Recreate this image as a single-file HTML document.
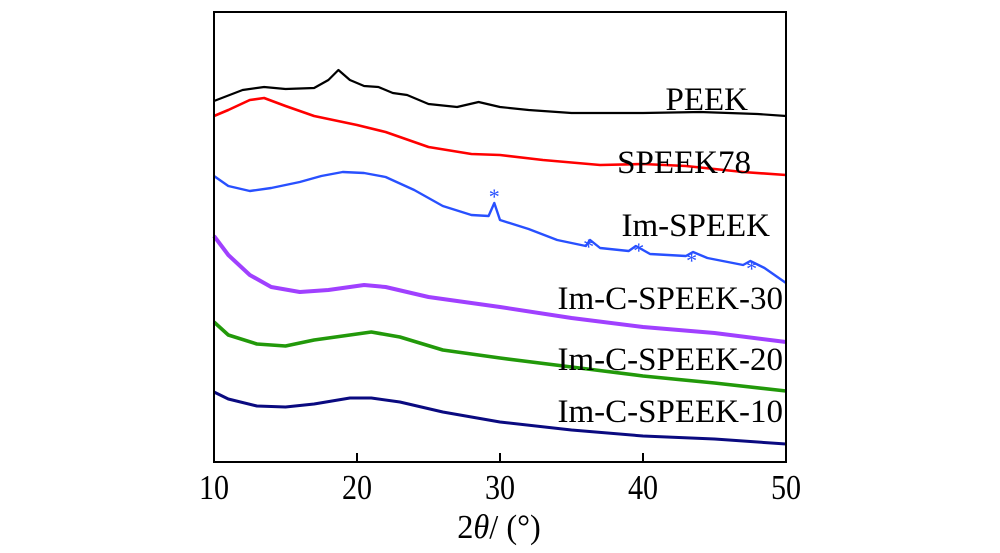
<!DOCTYPE html>
<html><head><meta charset="utf-8"><style>
html,body{margin:0;padding:0;background:#fff;}
svg{display:block;font-family:"Liberation Serif",serif;}
</style></head><body>
<svg id="chart" width="1000" height="553" viewBox="0 0 1000 553" xmlns="http://www.w3.org/2000/svg">
<g id="series"></g>
<rect x="214" y="12" width="572" height="450" fill="none" stroke="#000" stroke-width="2"/>
<g id="ticks"></g>
<text transform="translate(499,538) scale(0.95,1)" font-size="34" text-anchor="middle">2<tspan font-style="italic">θ</tspan>/ (°)</text>
<g id="labels"></g>
</svg>
<script>
const xTicks=[10,20,30,40,50];
const angles=[
 [10,12,13.5,15,17,18,18.7,19.5,20.5,21.5,22.5,23.5,25,27,28.5,30,32,35,40,44,48,50],
 [10,11,12.5,13.5,15,17,20,22,25,28,30,33,37,40,43,47,50],
 [10,11,12.5,14,16,17.5,19,20.5,22,24,26,28,29.2,29.6,30,32,34,36,36.3,37,39,39.5,40.5,43,43.5,44.5,47,47.5,48.5,50],
 [10,11,12.5,14,16,18,20.5,22,25,30,35,40,45,50],
 [10,11,13,15,17,19.5,21,23,26,30,35,40,45,50],
 [10,11,13,15,17,19.5,21,23,26,30,35,40,45,50]
];
const peek=[101,90,87,89,88,80,70,80,86,87,93,95,104,107,102,107,110,113,113,112,114,116];
const speek78=[116,110,100,98,106,116,125,132,147,154,155,160,165,164,166,172,175];
const imSpeek=[176,186,191,188,182,176,172,173,177,190,206,215,216,203,220,229,240,246,240,248,251,246,254,256,252,258,265,261,268,283];
const imC30=[236,255,275,287,292,290,285,287,297,307,318,327,333,342];
const imC20=[322,335,344,346,340,335,332,337,350,358,367,376,383,391];
const imC10=[392,399,406,407,404,398,398,402,412,422,430,436,439,444];
const seriesNames=["PEEK","SPEEK78","Im-SPEEK","Im-C-SPEEK-30","Im-C-SPEEK-20","Im-C-SPEEK-10"];
const seriesVals=[peek,speek78,imSpeek,imC30,imC20,imC10].map(a=>a.map(y=>462-y));
const colors=["#000000","#ff0000","#2850ff","#a040ff","#22990a","#0a0a80"];
const widths=[2.2,2.6,2.4,4,3.6,3];
const starAngles=[29.6,36.2,39.7,43.4,47.6];
const starVals=[269,219,215,205,197];
const labelY=[110,173,236,309,370,422];
const labelX=[748,751,770,783,783,783];
const X=v=>214+(v-10)*572/40;
const Y=v=>462-v;
const NS="http://www.w3.org/2000/svg";
const sg=document.getElementById('series');
seriesVals.forEach((vals,i)=>{
 const p=document.createElementNS(NS,'polyline');
 
 
 p.setAttribute('points',vals.map((v,j)=>X(angles[i][j]).toFixed(1)+','+Y(v).toFixed(1)).join(' '));
 p.setAttribute('fill','none');p.setAttribute('stroke',colors[i]);p.setAttribute('stroke-width',widths[i]);
 p.setAttribute('stroke-linejoin','round');
 sg.appendChild(p);
});
starAngles.forEach((a,i)=>{
 const t=document.createElementNS(NS,'text');
 
 
 t.setAttribute('x',X(a));t.setAttribute('y',Y(starVals[i])+11);
 t.setAttribute('font-size','22');t.setAttribute('fill','#2850ff');t.setAttribute('text-anchor','middle');
 t.textContent='*';sg.appendChild(t);
});
const tg=document.getElementById('ticks');
xTicks.forEach(v=>{
 if(v>10&&v<50){const l=document.createElementNS(NS,'line');
 
 
 l.setAttribute('x1',X(v));l.setAttribute('x2',X(v));l.setAttribute('y1',462);l.setAttribute('y2',453);
 l.setAttribute('stroke','#000');l.setAttribute('stroke-width','2');tg.appendChild(l);}
 const t=document.createElementNS(NS,'text');
 
 
 t.setAttribute('transform','translate('+X(v)+',499) scale(0.86,1)');
 t.setAttribute('font-size','35');t.setAttribute('text-anchor','middle');
 t.textContent=v;tg.appendChild(t);
});
const lg=document.getElementById('labels');
seriesNames.forEach((n,i)=>{
 const t=document.createElementNS(NS,'text');
 
 
 t.setAttribute('x',labelX[i]);t.setAttribute('y',labelY[i]);t.setAttribute('font-size','33');t.setAttribute('text-anchor','end');
 t.textContent=n;lg.appendChild(t);
});
</script>
</body></html>
